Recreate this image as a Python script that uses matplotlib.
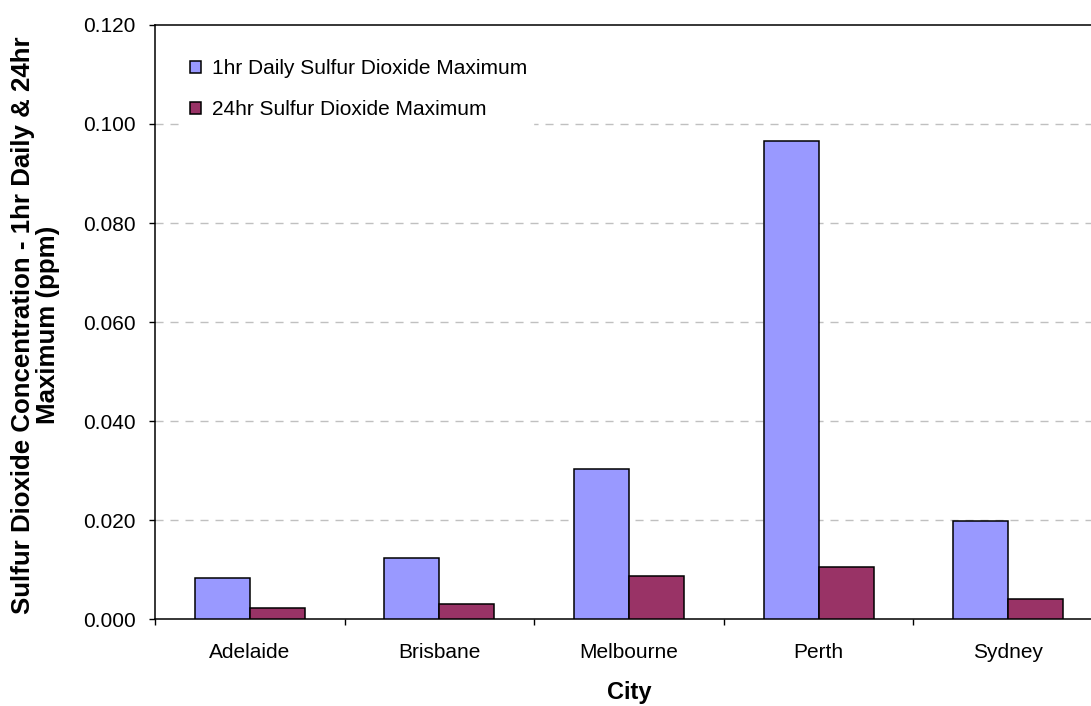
import numpy as np
import matplotlib
matplotlib.use('Agg')
import matplotlib.pyplot as plt

plt.rcParams['font.family'] = ['Liberation Sans', 'DejaVu Sans']

cities = ['Adelaide', 'Brisbane', 'Melbourne', 'Perth', 'Sydney']
max_1hr = [0.0082, 0.0123, 0.0304, 0.0966, 0.0199]
max_24hr = [0.0022, 0.0030, 0.0086, 0.0106, 0.0041]
series_names = ['1hr Daily Sulfur Dioxide Maximum', '24hr Sulfur Dioxide Maximum']
yticks = [0.0, 0.02, 0.04, 0.06, 0.08, 0.10, 0.12]

fig = plt.figure(figsize=(10.91, 7.06), dpi=100)
# plot area runs a little past the right edge of the figure
ax = fig.add_axes([0.1421, 0.1232, 0.8689, 0.8414])

x = np.arange(len(cities))
w = 0.29
ax.bar(x - w / 2, max_1hr, w, color='#9999FF', edgecolor='black', linewidth=1.1,
       label=series_names[0], zorder=3)
ax.bar(x + w / 2, max_24hr, w, color='#993366', edgecolor='black', linewidth=1.1,
       label=series_names[1], zorder=3)

ax.set_xlim(-0.5, len(cities) - 0.5)
ax.set_ylim(0, 0.12)
ax.set_yticks(yticks)
ax.set_yticklabels([f'{v:.3f}' for v in yticks])

# dashed gridlines, skipping the baseline and the top border
for v in yticks[1:-1]:
    ax.axhline(v, color='#c0c0c0', linewidth=1.0, dashes=(5.8, 5.0), zorder=1)

ax.set_xticks(x)
ax.set_xticklabels(cities)
ax.set_xticks(np.arange(len(cities) + 1) - 0.5, minor=True)
ax.tick_params(axis='x', which='major', length=0, pad=17, labelsize=15)
ax.tick_params(axis='x', which='minor', length=4, width=1, direction='out')
ax.tick_params(axis='y', length=4, width=1, direction='out', pad=10, labelsize=15)

for side in ['left', 'bottom', 'top']:
    ax.spines[side].set_linewidth(1.1)
    ax.spines[side].set_color('black')
ax.spines['right'].set_visible(False)

fig.text(35.5 / 1091, 1 - 325 / 706,
         'Sulfur Dioxide Concentration - 1hr Daily & 24hr\nMaximum (ppm)',
         rotation=90, ha='center', va='center', fontsize=18.6, fontweight='bold',
         linespacing=1.1)
fig.text(629 / 1091, 1 - 693 / 706, 'City', ha='center', va='center',
         fontsize=17, fontweight='bold')

leg = ax.legend(loc='upper left', bbox_to_anchor=(0.019, 0.97), fontsize=15,
                handlelength=0.55, handleheight=0.55, handletextpad=0.5,
                labelspacing=1.05, borderpad=0.3, frameon=True, fancybox=False)
leg.get_frame().set_facecolor('white')
leg.get_frame().set_edgecolor('white')
leg.get_frame().set_alpha(1)
leg.set_zorder(5)

fig.savefig('out.png', dpi=100)
